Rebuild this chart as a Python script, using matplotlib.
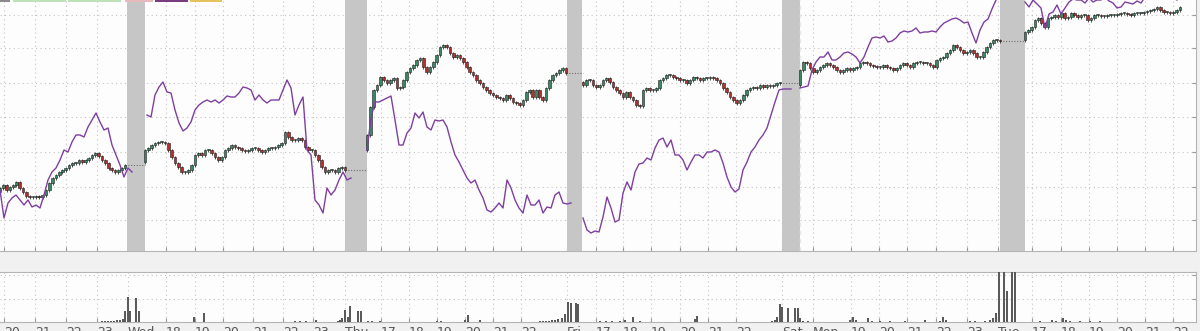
import numpy as np
import matplotlib.pyplot as plt
from matplotlib.patches import Rectangle

# --- price candles, one list of closes per session (open of first candle separately) ---
first_open = [58, 88, 100, 168, 165, 210]

close_a = [62, 65, 60, 63, 65, 68, 62, 58, 54, 53, 53, 54, 53, 55, 60, 67, 72, 75, 78, 80,
           82, 85, 87, 87, 90, 88, 90, 92, 95, 97, 94, 90, 87, 82, 80, 78, 80, 82, 85]
close_b = [100, 102, 105, 107, 108, 108, 107, 100, 93, 87, 83, 78, 78, 80, 85, 95, 97, 95, 100, 100,
           97, 93, 90, 93, 100, 102, 105, 103, 102, 100, 99, 100, 102, 102, 100, 98, 100, 102, 102, 103,
           105, 107, 118, 113, 110, 110, 112, 110, 103, 100, 100, 95, 90, 83, 78, 80, 80, 78, 82, 83, 80]
close_c = [115, 143, 160, 165, 173, 170, 167, 170, 172, 162, 163, 170, 178, 182, 185, 190, 192, 183, 178, 183,
           188, 195, 203, 205, 203, 197, 193, 195, 192, 188, 183, 178, 175, 170, 167, 163, 160, 157, 155, 153,
           152, 150, 155, 152, 148, 147, 145, 150, 158, 160, 153, 160, 153, 150, 162, 170, 175, 177, 180, 182, 177]
close_d = [165, 170, 170, 165, 163, 165, 170, 172, 168, 163, 160, 157, 153, 158, 153, 150, 145, 144, 160, 162,
           160, 160, 162, 170, 172, 175, 175, 173, 172, 170, 170, 167, 170, 173, 172, 170, 172, 172, 173, 172,
           170, 167, 162, 158, 153, 150, 147, 150, 155, 160, 162, 163, 162, 165, 163, 165, 164, 165, 167, 167]
close_e = [180, 188, 187, 182, 178, 180, 183, 185, 187, 185, 183, 180, 178, 180, 182, 180, 182, 183, 187, 188,
           187, 185, 184, 183, 183, 185, 183, 182, 180, 182, 185, 187, 185, 183, 187, 188, 188, 187, 187, 185,
           183, 190, 192, 193, 197, 200, 205, 203, 200, 197, 198, 200, 197, 193, 193, 198, 203, 207, 210, 210, 209]
close_f = [218, 220, 223, 230, 232, 227, 223, 232, 233, 235, 233, 237, 232, 233, 237, 235, 233, 235, 235, 230,
           232, 235, 235, 234, 234, 235, 235, 235, 236, 237, 237, 236, 235, 237, 237, 237, 238, 239, 240, 241,
           243, 240, 238, 238, 237, 238, 240, 243]

# --- purple indicator line, per session ---
purple_a = [60, 32, 47, 52, 55, 50, 45, 50, 43, 45, 42, 55, 70, 78, 82, 90, 100, 98, 108, 115,
            115, 113, 123, 130, 137, 128, 120, 122, 105, 95, 85, 73, 82, 78]
purple_b = [135, 133, 155, 163, 168, 158, 157, 140, 127, 119, 122, 128, 140, 145, 148, 150, 148, 150, 147, 150,
            154, 153, 153, 157, 163, 162, 160, 150, 155, 150, 147, 150, 150, 150, 160, 170, 162, 135, 145, 153,
            100, 95, 50, 45, 37, 62, 55, 60, 70, 78, 70, 72]
purple_c = [100, 132, 148, 148, 150, 152, 154, 130, 105, 105, 117, 122, 137, 132, 138, 123, 120, 130, 129, 130,
            123, 108, 95, 88, 80, 72, 67, 70, 60, 52, 40, 38, 42, 47, 42, 70, 62, 50, 42, 37,
            55, 45, 45, 50, 37, 43, 42, 55, 58, 47, 46, 47]
purple_d = [32, 20, 17, 19, 18, 33, 53, 42, 28, 30, 57, 68, 60, 78, 86, 87, 92, 90, 102, 110,
            112, 103, 110, 95, 95, 90, 80, 88, 95, 95, 92, 98, 98, 100, 98, 87, 73, 63, 58, 61,
            80, 88, 98, 103, 110, 115, 122, 135, 148, 160, 161, 161, 161]
purple_e = [162, 163, 164, 180, 188, 193, 193, 198, 190, 190, 193, 197, 198, 196, 193, 187, 193, 203, 212, 213,
            212, 214, 208, 209, 212, 217, 219, 218, 219, 222, 217, 218, 218, 219, 218, 223, 227, 229, 231, 232,
            230, 227, 228, 217, 207, 220, 228, 231, 241, 250, 258]
purple_f = [248, 243, 250, 246, 242, 222, 236, 238, 245, 236, 242, 248, 251, 250, 250, 247, 252, 248, 250, 250,
            253, 249, 247, 242, 243, 248, 247, 246, 249, 247, 253, 252, 254, 252, 251, 253, 254, 252, 250, 253]

# --- volume ---
vol_x = [102, 105, 108, 111, 114, 117, 120, 123, 125, 128, 130, 136, 139, 194, 204,
         295, 300, 306, 316, 338, 340, 342, 345, 348, 350, 358, 361, 368, 372, 380,
         437, 441, 465, 468, 480, 540, 543, 546, 549, 552, 555, 558, 562, 565, 568, 571, 576, 578,
         600, 606, 612, 620, 625, 633, 640, 695, 697, 772, 775, 777, 780, 782, 788, 795, 798,
         800, 803, 808, 850, 853, 856, 868, 872, 880, 890, 905, 925, 940, 943, 946, 970, 975, 985,
         990, 993, 996, 999, 1004, 1007, 1012, 1015,
         1040, 1052, 1056, 1063, 1066, 1070, 1080, 1090, 1100]
vol_h = [1, 1, 1, 1, 1, 2, 2, 3, 11, 25, 11, 24, 11, 5, 9,
         1, 1, 1, 2, 1, 2, 4, 12, 5, 16, 11, 11, 1, 1, 1,
         1, 1, 2, 7, 2, 1, 1, 1, 1, 2, 2, 3, 4, 8, 20, 19, 19, 18,
         1, 1, 1, 1, 2, 5, 1, 3, 6, 1, 2, 5, 18, 15, 14, 14, 14,
         4, 1, 1, 2, 5, 2, 4, 1, 1, 1, 1, 2, 1, 5, 2, 1, 1, 1,
         2, 4, 9, 60, 60, 31, 60, 60,
         1, 2, 1, 4, 2, 1, 1, 1, 1]

# --- x axis labels ---
tick_labels = ['20', '21', '22', '23', 'Wed', '18', '19', '20', '21', '22', '23', 'Thu',
               '17', '18', '19', '20', '21', '22', 'Fri', '17', '18', '19', '20', '21', '22',
               'Sat', 'Mon', '19', '20', '21', '22', '23', 'Tue', '17', '18', '19', '20', '21', '22']
tick_pos = [4, 35, 66, 97, 128, 166, 195, 223, 253, 283, 313, 345, 381, 409, 437, 465, 493, 521,
            567, 596, 623, 651, 680, 708, 736, 782, 813, 851, 879, 907, 936, 967, 998,
            1032, 1061, 1089, 1117, 1145, 1173]

# layout of sessions on the x axis
candle_spans = [(0, 125), (145, 345), (367, 566), (583, 780), (800, 1000), (1025, 1180)]
purple_spans = [(0, 132), (147, 351), (367, 571), (583, 791), (800, 1000), (1025, 1181)]
breaks = [(127, 145), (345, 367), (567, 582), (782, 800), (1000, 1025)]

closes = [close_a, close_b, close_c, close_d, close_e, close_f]
purples = [purple_a, purple_b, purple_c, purple_d, purple_e, purple_f]

W, H = 1200, 331
fig = plt.figure(figsize=(12, 3.31), dpi=100, facecolor='#f1f1f1')
ax = fig.add_axes([0, (H - 251) / H, 1196 / W, 251 / H], facecolor='#fdfdfd')
axv = fig.add_axes([0, (H - 322) / H, 1196 / W, 50 / H], facecolor='#fdfdfd')

grid_style = dict(color='#c4c4c4', linestyle=(0, (1, 3)), linewidth=0.8)

# main panel
for a, b in breaks:
    ax.axvspan(a, b, color='#c6c6c6', lw=0, zorder=1)
ax.axvline(800, color='#e8e8e8', ls=(0, (3, 3)), lw=1, zorder=1.5)

for i, (cl, span) in enumerate(zip(closes, candle_spans)):
    cl = np.array(cl, dtype=float)
    op = np.concatenate([[first_open[i]], cl[:-1]])
    x = np.linspace(span[0], span[1], len(cl))
    up = cl >= op
    lo = np.minimum(op, cl)
    hi = np.maximum(op, cl)
    ax.vlines(x, lo - 1.5, hi + 1.5, color='#333333', lw=0.6, zorder=3)
    ax.bar(x, np.maximum(hi - lo, 0.8), bottom=lo, width=2.7,
           color=np.where(up, '#3a8765', '#b5302d'), edgecolor='#1e1e1e', lw=0.4, zorder=4)
    # dotted link across the session break
    if i < len(breaks):
        ax.hlines(cl[-1], span[1], candle_spans[i + 1][0], color='#707070',
                  linestyles=(0, (1, 1.5)), lw=0.8, zorder=2)

for pv, span in zip(purples, purple_spans):
    px = np.linspace(span[0], span[1], len(pv))
    ax.plot(px, pv, color='#7e3fa0', lw=1.0, zorder=5)

ax.set_xlim(0, 1196)
ax.set_ylim(-1, 250)
ax.set_xticks(tick_pos)
ax.set_yticks([30, 63, 98, 133, 167, 202, 235])
ax.tick_params(axis='x', direction='in', length=3, color='#999999', labelbottom=False)
ax.tick_params(axis='y', direction='in', length=3, color='#999999', left=False, right=True,
               labelleft=False, labelright=False)
ax.grid(True, **grid_style)
ax.set_axisbelow(True)
for side in ['top', 'left']:
    ax.spines[side].set_visible(False)
for side in ['bottom', 'right']:
    ax.spines[side].set_color('#b5b5b5')

# volume panel
axv.bar(vol_x, vol_h, width=1.1, color='#5a5a5a', zorder=3)
axv.set_xlim(0, 1196)
axv.set_ylim(0, 50)
axv.set_yticks([23, 47])
axv.set_xticks(tick_pos)
axv.set_xticklabels(tick_labels, ha='left', fontsize=9, color='#555555')
axv.tick_params(axis='x', direction='in', length=3, pad=3, color='#999999')
axv.tick_params(axis='y', direction='in', length=3, color='#999999', left=False, right=True,
                labelleft=False)
axv.grid(True, **grid_style)
axv.set_axisbelow(True)
axv.spines['left'].set_visible(False)
for side in ['top', 'bottom', 'right']:
    axv.spines[side].set_color('#b5b5b5')

# pieces of the legend cut off at the top edge
legend_bits = [(0, 10, '#8a8a8a'), (13, 66, '#bfe3b8'), (68, 121, '#bfe3b8'),
               (125, 153, '#e9b8bc'), (155, 188, '#7a3c7e'), (190, 222, '#e6c35c')]
for x0, x1, c in legend_bits:
    fig.add_artist(Rectangle((x0 / W, 1 - 2 / H), (x1 - x0) / W, 2 / H,
                             transform=fig.transFigure, color=c, lw=0))

fig.savefig('out.png', dpi=100, facecolor=fig.get_facecolor())
